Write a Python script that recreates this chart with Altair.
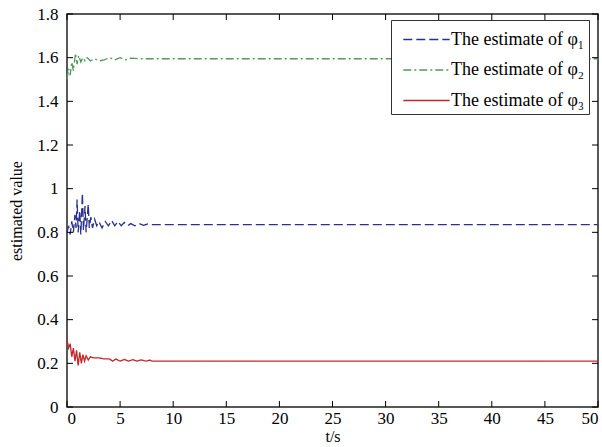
import altair as alt
import pandas as pd

# ---- data ----
t1 = [0.0, 0.15, 0.3, 0.45, 0.6, 0.75, 0.85, 0.95, 1.05, 1.2, 1.3, 1.45, 1.55, 1.7, 1.8, 2.0, 2.1, 2.25, 2.4,
      2.6, 2.8, 3.0, 3.3, 3.6, 3.9, 4.2, 4.5, 4.8, 5.1, 5.4, 5.7, 6.0, 6.4, 6.8, 7.2, 7.6, 8.0, 50.0]
v1 = [0.80, 0.83, 0.79, 0.85, 0.80, 0.88, 0.82, 0.95, 0.80, 0.90, 0.79, 0.98, 0.81, 0.92, 0.80, 0.93, 0.82, 0.87, 0.82,
      0.86, 0.83, 0.85, 0.82, 0.85, 0.83, 0.855, 0.83, 0.85, 0.83, 0.845, 0.83, 0.84, 0.83, 0.84, 0.832, 0.838, 0.835, 0.835]

t2 = [0.0, 0.15, 0.3, 0.45, 0.6, 0.8, 0.95, 1.1, 1.3, 1.5, 1.7, 1.9, 2.2, 2.6, 3.0, 3.5, 4.0, 4.5, 5.0, 5.5, 6.0, 7.0, 50.0]
v2 = [1.50, 1.55, 1.52, 1.58, 1.54, 1.62, 1.57, 1.61, 1.58, 1.60, 1.585, 1.60, 1.585, 1.595, 1.585, 1.59, 1.60, 1.59,
      1.60, 1.59, 1.598, 1.595, 1.595]

t3 = [0.0, 0.15, 0.3, 0.45, 0.6, 0.75, 0.9, 1.05, 1.2, 1.35, 1.5, 1.65, 1.8, 2.0, 2.2, 2.5, 3.0, 3.5, 4.0, 4.3, 4.6,
      5.0, 5.4, 5.8, 6.2, 6.6, 7.0, 7.4, 7.8, 8.0, 50.0]
v3 = [0.31, 0.27, 0.29, 0.23, 0.27, 0.21, 0.26, 0.19, 0.25, 0.20, 0.24, 0.21, 0.235, 0.215, 0.23, 0.225, 0.225, 0.22,
      0.22, 0.21, 0.22, 0.21, 0.218, 0.21, 0.217, 0.21, 0.216, 0.21, 0.215, 0.21, 0.21]

names = ["The estimate of φ₁", "The estimate of φ₂", "The estimate of φ₃"]
colors = ["#2b2f8f", "#4f9a5a", "#c0282d"]
dashes = [[9, 4], [8, 3, 2, 3], [1, 0]]

x_ticks = [0, 5, 10, 15, 20, 25, 30, 35, 40, 45, 50]
y_ticks = [0, 0.2, 0.4, 0.6, 0.8, 1.0, 1.2, 1.4, 1.6, 1.8]

W, H = 531, 393
FONT = "Liberation Serif"

rows = []
for name, ts, vs in zip(names, [t1, t2, t3], [v1, v2, v3]):
    for i, (t, v) in enumerate(zip(ts, vs)):
        rows.append({"t": t, "v": v, "series": name, "order": i})
df = pd.DataFrame(rows)

xs = alt.Scale(domain=[0, 50], nice=False)
ys = alt.Scale(domain=[0, 1.8], nice=False)

lines = alt.Chart(df).mark_line(strokeWidth=1.3).encode(
    x=alt.X("t:Q", scale=xs, axis=alt.Axis(values=x_ticks, title="t/s", grid=False, tickSize=0,
                                           labelPadding=3, domain=False, titlePadding=2)),
    y=alt.Y("v:Q", scale=ys, axis=alt.Axis(values=y_ticks, format="~g", title="estimated value", grid=False,
                                           tickSize=0, labelPadding=9, domain=False, titlePadding=12)),
    order="order:Q",
    color=alt.Color("series:N", scale=alt.Scale(domain=names, range=colors),
                    legend=alt.Legend(title=None, orient="none", legendX=324, legendY=6,
                                      symbolType="M-1.6,0L1.6,0", symbolSize=841, symbolStrokeWidth=1.5,
                                      symbolOffset=16,
                                      strokeColor="#333333", fillColor="white", padding=4,
                                      labelFont=FONT, labelFontSize=18, labelColor="black",
                                      rowPadding=5.5, labelOffset=9, labelLimit=300)),
    strokeDash=alt.StrokeDash("series:N", scale=alt.Scale(domain=names, range=dashes), legend=None),
)

xt = pd.DataFrame({"x": x_ticks})
yt = pd.DataFrame({"y": y_ticks})

tick_bottom = alt.Chart(xt).mark_rule(color="black").encode(
    x=alt.X("x:Q", scale=xs), y=alt.value(H), y2=alt.value(H - 6))
tick_top = alt.Chart(xt).mark_rule(color="black").encode(
    x=alt.X("x:Q", scale=xs), y=alt.value(0), y2=alt.value(6))
tick_left = alt.Chart(yt).mark_rule(color="black").encode(
    y=alt.Y("y:Q", scale=ys), x=alt.value(0), x2=alt.value(6))
tick_right = alt.Chart(yt).mark_rule(color="black").encode(
    y=alt.Y("y:Q", scale=ys), x=alt.value(W), x2=alt.value(W - 6))

chart = alt.layer(lines, tick_bottom, tick_top, tick_left, tick_right).properties(
    width=W, height=H,
    autosize=alt.AutoSizeParams(type="none"),
    padding={"left": 67, "top": 14, "right": 4, "bottom": 40},
    background="white",
).configure_view(stroke="#222222", strokeWidth=1.5).configure_axis(
    labelFont=FONT, titleFont=FONT, labelFontSize=17, titleFontSize=16,
    labelColor="black", titleColor="black", titleFontWeight="normal",
)

chart.save("out.html", embed_options={"renderer": "svg", "actions": False})
